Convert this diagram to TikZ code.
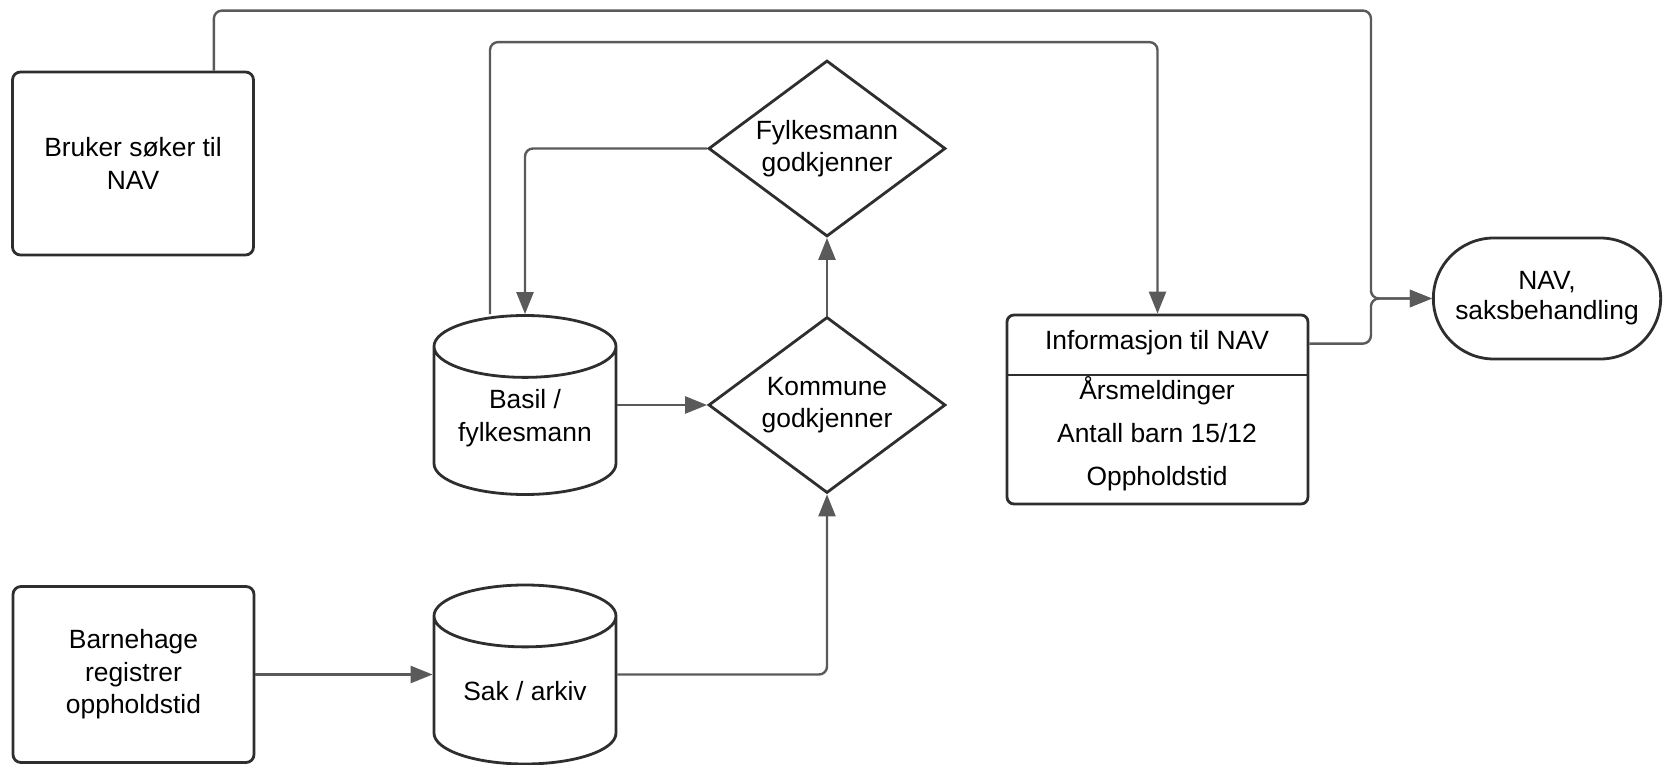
\documentclass[tikz,border=0pt]{standalone}
\usepackage{fontspec}
\setmainfont{Liberation Sans}
\usepackage{tikz}
\usetikzlibrary{shapes.geometric,shapes.misc,arrows.meta}
\definecolor{edge}{HTML}{2E2E2E}
\definecolor{wire}{HTML}{5A5A5A}
\newcommand{\lblfont}{\fontsize{26.4}{32.5}\selectfont}
\tikzset{
  box/.style={draw=edge, line width=2.8pt, rounded corners=8pt, fill=white,
    minimum width=241pt, minimum height=180pt, align=center, font=\lblfont},
  store/.style={cylinder, shape border rotate=90, aspect=0.34, draw=edge, line width=2.8pt,
    fill=white, text width=182pt, minimum height=179pt, inner sep=0pt, align=center,
    anchor=shape center},
  storetext/.style={font=\lblfont, align=center},
  check/.style={diamond, aspect=1.35, draw=edge, line width=2.8pt, fill=white, inner sep=0pt,
    minimum width=237pt, minimum height=176pt, align=center, font=\lblfont},
  term/.style={rounded rectangle, draw=edge, line width=2.8pt, fill=white,
    minimum width=234pt, minimum height=121pt, align=center, font=\fontsize{26.4}{30}\selectfont},
  lbl/.style={font=\lblfont, anchor=base},
  wire/.style={draw=wire, line width=2.4pt, rounded corners=8pt},
  arr/.style={wire, -{Triangle[length=22pt, width=17pt]}}
}
\begin{document}
\begin{tikzpicture}[x=1pt, y=1pt]
  \useasboundingbox (0,0) rectangle (1665,764);

  \node[box, minimum height=183pt] (bruker) at (133,600.5) {Bruker søker til\\NAV};
  \node[box, minimum height=176pt] (barnehage) at (133.5,89.5) {Barnehage\\registrer\\oppholdstid};

  \node[store, label={[storetext, yshift=3pt]center:{Basil /\\fylkesmann}}] (basil) at (525,359) {};
  \node[store, label={[storetext]center:{Sak / arkiv}}] (sak) at (525,89.5) {};

  \node[check] (kommune) at (827,359) {Kommune\\godkjenner};
  \node[check] (fylke) at (827,615.5) {Fylkesmann\\godkjenner};

  \node[box, minimum width=301pt, minimum height=189pt, rounded corners=7pt] (info) at (1157.5,354.5) {};
  \draw[draw=edge, line width=2.8pt] (info.west |- 0,389) -- (info.east |- 0,389);
  \node[lbl] (infohead) at (1157,414) {Informasjon til NAV};
  \node[lbl] (info1) at (1157,364) {Årsmeldinger};
  \node[lbl] (info2) at (1157,321) {Antall barn 15/12};
  \node[lbl] (info3) at (1157,279) {Oppholdstid};

  \node[term] (nav) at (1547,465.5) {NAV,\\saksbehandling};

  % connectors
  \draw[arr] ([xshift=-41pt]bruker.north east) -- ++(0,60) -| ([xshift=-61pt]nav.west) -- (nav.west);
  \draw[arr] ([yshift=-30pt]info.north east) -| ([xshift=-61pt]nav.west) -- (nav.west);
  \draw[arr] ([xshift=-35pt]basil.north) -- ++(0,272) -| (info.north);
  \draw[arr] (fylke.west) -| (basil.north);
  \draw[arr] (basil.shape center -| basil.east) -- (kommune);
  \draw[arr] (kommune) -- (fylke);
  \draw[arr] (barnehage) -- (sak.shape center -| sak.west);
  \draw[arr] (sak.shape center -| sak.east) -| (kommune);
\end{tikzpicture}
\end{document}
